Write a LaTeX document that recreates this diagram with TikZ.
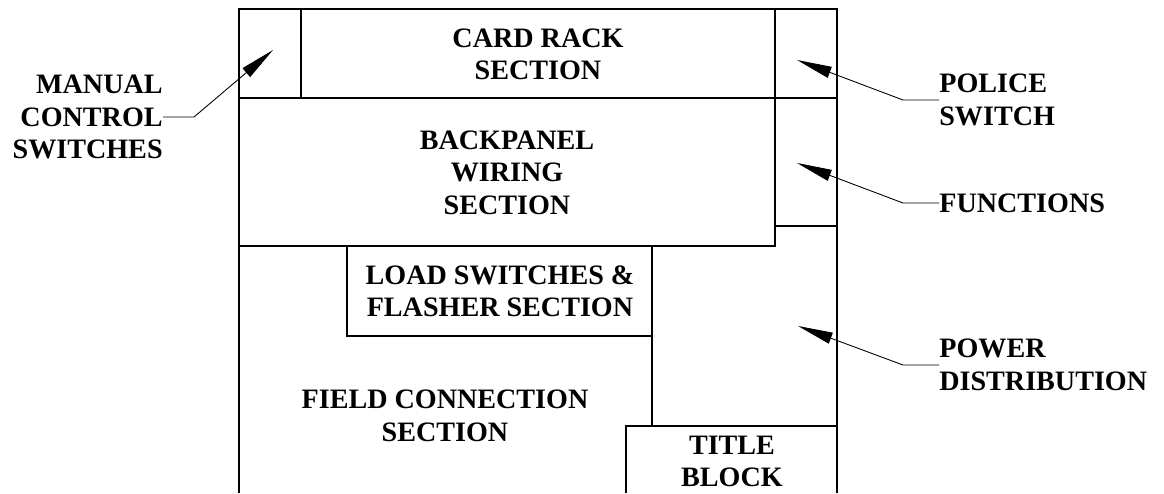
\documentclass[tikz,border=0pt]{standalone}
\usepackage{fontspec}
\setmainfont{Liberation Serif}
\usetikzlibrary{arrows.meta,positioning}

\tikzset{
  wall/.style={line width=0.6pt},
  lbl/.style={inner sep=0pt, font=\fontsize{16}{18.5}\selectfont\bfseries},
  leader/.style={line width=0.5pt, -{Triangle[length=7mm,width=2.3mm]}}
}

\begin{document}
\begin{tikzpicture}
\useasboundingbox (0,0) rectangle (23.28,9.86);
% cabinet layout
\draw [wall] (4.78,0) -- (4.78,9.68) -- (16.74,9.68) -- (16.74,0);
\draw [wall] (4.78,7.90) -- (16.74,7.90);
\draw [wall] (6.02,9.68) -- (6.02,7.90);
\draw [wall] (15.5,9.68) -- (15.5,4.94) -- (4.78,4.94);
\draw [wall] (15.5,5.34) -- (16.74,5.34);
\draw [wall] (6.94,4.94) -- (6.94,3.14) -- (13.04,3.14);
\draw [wall] (13.04,4.94) -- (13.04,1.34);
\draw [wall] (12.52,0) -- (12.52,1.34) -- (16.74,1.34);
% section names
\node [lbl, align=center] (rack) at (10.76,8.77) {CARD RACK\\SECTION};
\node [lbl, align=center] (backpanel) at (10.14,6.41) {BACKPANEL\\WIRING\\SECTION};
\node [lbl, align=center] (load) at (10.0,4.03) {LOAD SWITCHES \&\\FLASHER SECTION};
\node [lbl, align=center] (field) at (8.9,1.54) {FIELD CONNECTION\\SECTION};
\node [lbl, align=center] (title) at (14.64,0.63) {TITLE\\BLOCK};
% callouts
\node [lbl, align=right, anchor=east] (manual) at (3.26,7.52) {MANUAL\\CONTROL\\SWITCHES};
\node [lbl, align=left, anchor=west] (police) at (18.78,7.86) {POLICE\\SWITCH};
\node [lbl, align=left, anchor=west] (functions) at (18.78,5.80) {FUNCTIONS};
\node [lbl, align=left, anchor=west] (power) at (18.78,2.56) {POWER\\DISTRIBUTION};
\coordinate (mtip) at (5.46,8.86);
\coordinate (ptip) at (15.94,8.66);
\coordinate (ftip) at (15.94,6.60);
\coordinate (dtip) at (15.96,3.34);
\draw [leader] (manual.east) -- ++(0.62,0) -- (mtip);
\draw [leader] (police.west) -- ++(-0.72,0) -- (ptip);
\draw [leader] (functions.west) -- ++(-0.72,0) -- (ftip);
\draw [leader] (power.west) -- ++(-0.72,0) -- (dtip);
\end{tikzpicture}
\end{document}
